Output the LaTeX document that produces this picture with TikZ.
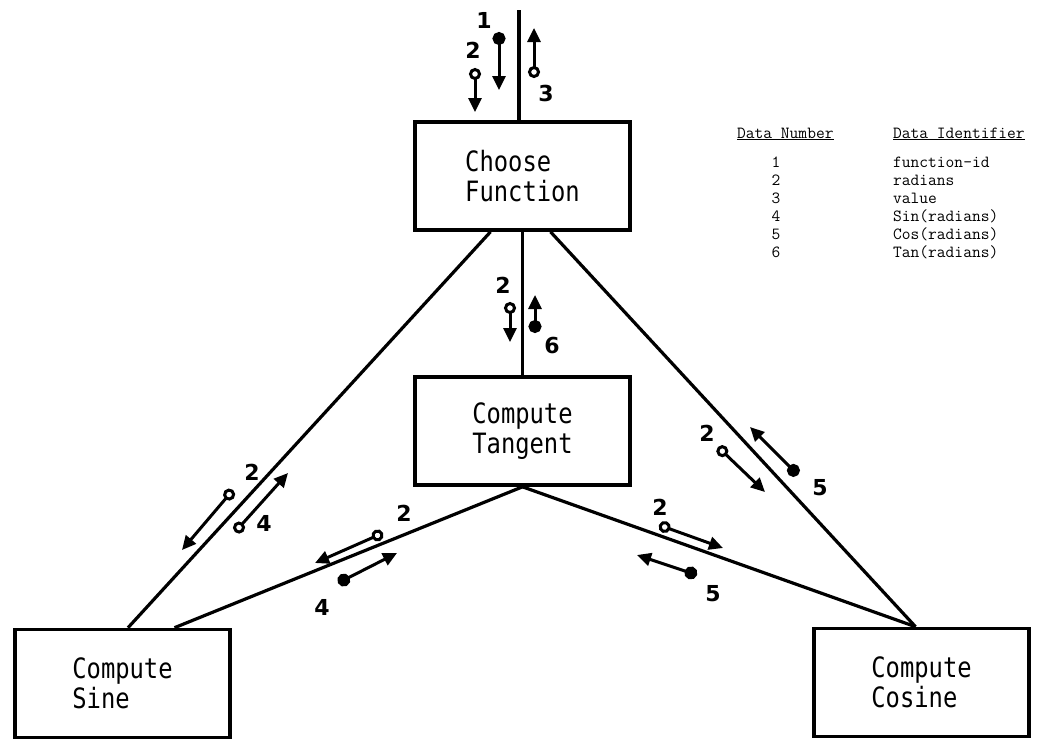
\documentclass[tikz,border=0pt]{standalone}
\usepackage{fontspec}
\usetikzlibrary{arrows.meta,calc}
\newfontfamily\boxfont[FakeStretch=0.85]{DejaVu Sans Mono}
\newfontfamily\handfont{DejaVu Sans}

\begin{document}
\begin{tikzpicture}[x=1pt,y=-1pt,
  module/.style={draw, line width=3.6pt, minimum width=215pt, minimum height=108pt,
    inner sep=0pt, align=left, font=\boxfont\fontsize{28}{30}\selectfont},
  link/.style={line width=3.2pt},
  datacouple/.style={line width=3pt,
    {Circle[open,length=12pt,width=12pt,fill=white]}-{Triangle[length=14pt,width=13pt]}},
  flagcouple/.style={line width=3pt,
    {Circle[length=13pt,width=13pt]}-{Triangle[length=14pt,width=13pt]}},
  num/.style={font=\handfont\bfseries\fontsize{22}{22}\selectfont, inner sep=0pt},
  legend/.style={font=\ttfamily\fontsize{17}{17}\selectfont, inner sep=0pt, anchor=base west},
  legendnum/.style={font=\ttfamily\fontsize{17}{17}\selectfont, inner sep=0pt, anchor=base}
]
\useasboundingbox (0,0) rectangle (1043,740);

% modules
\node[module] (choose)  at (522.5,176)   {Choose\\Function};
\node[module] (tangent) at (522.5,431)   {Compute\\Tangent};
\node[module] (sine)    at (122.5,683.5) {Compute\\Sine};
\node[module] (cosine)  at (921.5,682.5) {Compute\\Cosine};

% connections
\coordinate (entry) at (519,10);
\draw[link] (entry) -- (entry |- choose.north);
\draw[link] (choose.south) -- (tangent.north);
\draw[link] ($(choose.south)+(-32,0)$) -- ($(sine.north)+(5.5,0)$);
\draw[link] ($(choose.south)+(28,0)$) -- ($(cosine.north)+(-6,0)$);
\draw[link] (tangent.south) -- ($(sine.north)+(52,0)$);
\draw[link] (tangent.south) -- ($(cosine.north)+(-6,0)$);

% couples on the entry line
\draw[flagcouple] (499,32) -- (499,90);
\node[num] (n1a) at (484,20) {1};
\draw[datacouple] (475,68) -- (475,112);
\node[num] (n2a) at (473,50) {2};
\draw[datacouple] (534,78) -- (534,28);
\node[num] (n3a) at (546,93) {3};

% couples between Choose Function and Compute Tangent
\draw[datacouple] (510,302) -- (510,342);
\node[num] (n2b) at (503,285) {2};
\draw[flagcouple] (535,333) -- (535,295);
\node[num] (n6b) at (552,345) {6};

% couples between Choose Function and Compute Sine
\draw[datacouple] (233,490) -- (182,550);
\node[num] (n2c) at (252,472) {2};
\draw[datacouple] (235,532) -- (288,473);
\node[num] (n4c) at (264,523) {4};

% couples between Compute Tangent and Compute Sine
\draw[datacouple] (383,533) -- (315,563);
\node[num] (n2d) at (404,513) {2};
\draw[flagcouple] (338,583) -- (397,553);
\node[num] (n4d) at (322,607) {4};

% couples between Choose Function and Compute Cosine
\draw[datacouple] (718,447) -- (765,492);
\node[num] (n2e) at (707,433) {2};
\draw[flagcouple] (798,475) -- (750,427);
\node[num] (n5e) at (820,488) {5};

% couples between Compute Tangent and Compute Cosine
\draw[datacouple] (659,525) -- (723,548);
\node[num] (n2f) at (660,507) {2};
\draw[flagcouple] (697,575) -- (637,555);
\node[num] (n5f) at (713,594) {5};

% data dictionary
\node[legend] (hnum) at (737,138) {\underline{Data Number}};
\node[legend] (hid)  at (893,138) {\underline{Data Identifier}};
\foreach \k/\name [count=\i] in {1/function-id,2/radians,3/value,4/Sin(radians),5/Cos(radians),6/Tan(radians)}{
  \node[legendnum] (dn\i) at (776,149+18*\i) {\k};
  \node[legend]    (di\i) at (893,149+18*\i) {\name};
}
\end{tikzpicture}
\end{document}
